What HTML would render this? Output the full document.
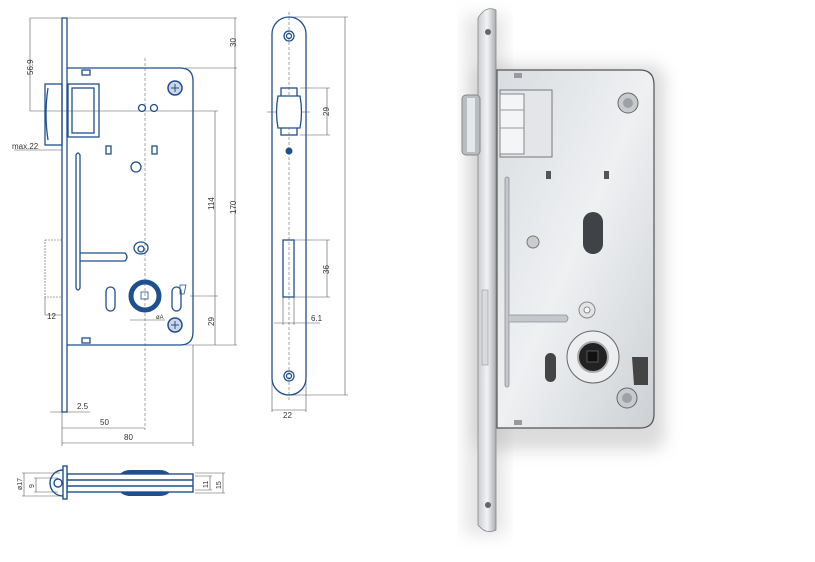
<!DOCTYPE html>
<html><head><meta charset="utf-8"><style>
html,body{margin:0;padding:0;background:#fff;width:815px;height:562px;overflow:hidden}
svg{display:block}
text{font-family:"Liberation Sans",sans-serif;font-size:8px;fill:#333}
</style></head><body>
<svg width="815" height="562" viewBox="0 0 815 562" xmlns="http://www.w3.org/2000/svg">
<defs>
<linearGradient id="plate" x1="0" x2="1"><stop offset="0" stop-color="#c9ccd0"/><stop offset=".5" stop-color="#f2f3f5"/><stop offset="1" stop-color="#a9adb2"/></linearGradient>
<linearGradient id="caseg" x1="0" y1="0" x2="1" y2="1"><stop offset="0" stop-color="#d9dce0"/><stop offset=".5" stop-color="#eef0f2"/><stop offset="1" stop-color="#cdd0d4"/></linearGradient>
<filter id="sh" x="-20%" y="-20%" width="140%" height="140%"><feGaussianBlur stdDeviation="8"/></filter>
</defs>

<!-- ===== Drawing 1 ===== -->
<g fill="none" stroke="#555" stroke-width="0.6">
 <line x1="30" y1="18" x2="237" y2="18"/>
 <line x1="30" y1="18" x2="30" y2="111"/>
 <line x1="30" y1="111" x2="218" y2="111"/>
 <line x1="235" y1="18" x2="235" y2="345"/>
 <line x1="185" y1="68" x2="237" y2="68"/>
 <line x1="215" y1="111" x2="215" y2="345"/>
 <line x1="190" y1="296" x2="218" y2="296"/>
 <line x1="185" y1="345" x2="237" y2="345"/>
 <line x1="14" y1="150" x2="62" y2="150"/>
 <line x1="45" y1="315" x2="62" y2="315"/>
 <line x1="45" y1="297" x2="45" y2="315"/>
 <line x1="50" y1="412" x2="90" y2="412"/>
 <line x1="62" y1="428" x2="145" y2="428"/>
 <line x1="62" y1="443" x2="193" y2="443"/>
 <line x1="62" y1="412" x2="62" y2="446"/>
 <line x1="193" y1="345" x2="193" y2="446"/>
 <line x1="130" y1="320" x2="165" y2="320"/>
 <rect x="45" y="240" width="17" height="57" stroke-dasharray="2,1"/>
</g>
<line x1="145" y1="58" x2="145" y2="430" stroke="#666" stroke-width="0.6" stroke-dasharray="3,2"/>
<g fill="none" stroke="#1f4f8f" stroke-width="1.3">
 <rect x="62" y="18" width="5" height="394"/>
 <path d="M67 68 H180 Q193 68 193 81 V332 Q193 345 180 345 H67"/>
 <rect x="45" y="84" width="17" height="61"/>
 <path d="M48 88 Q44 114 48 140"/>
 <rect x="68" y="84" width="31" height="53"/>
 <rect x="72" y="88" width="22" height="45"/>
 <rect x="82" y="70" width="8" height="5"/>
 <rect x="82" y="338" width="8" height="5"/>
 <circle cx="142" cy="108" r="3.5"/><circle cx="154" cy="108" r="3.5"/>
 <rect x="106" y="146" width="5" height="8"/><rect x="152" y="146" width="5" height="8"/>
 <circle cx="136" cy="167" r="5"/>
 <ellipse cx="141" cy="248" rx="7" ry="6"/><circle cx="141" cy="249" r="3"/>
 <path d="M76 155 Q78 151 80 155 V288 Q78 292 76 288 Z"/>
 <path d="M80 253 H125 Q129 257 125 261 H80"/>
 <rect x="106" y="287" width="9" height="24" rx="4.5"/>
 <rect x="172" y="287" width="9" height="24" rx="4.5"/>
 <path d="M180 285 L186 285 L184 294 L180 294 Z" stroke-width="0.8"/>
 <rect x="141" y="292" width="7" height="7" stroke-width="0.8"/>
</g>
<circle cx="145" cy="296" r="14" fill="none" stroke="#1f4f8f" stroke-width="5"/>
<g stroke="#1f4f8f" stroke-width="1.5" fill="#cfd7e6"><circle cx="175" cy="88" r="7"/><circle cx="175" cy="325" r="7"/></g>
<g stroke="#1f4f8f" stroke-width="1"><path d="M171 88h8M175 84v8M171 325h8M175 321v8"/></g>
<text x="236" y="47" transform="rotate(-90 236 47)">30</text>
<text x="33" y="75" transform="rotate(-90 33 75)">56.9</text>
<text x="12" y="149">max.22</text>
<text x="214" y="210" transform="rotate(-90 214 210)">114</text>
<text x="236" y="214" transform="rotate(-90 236 214)">170</text>
<text x="214" y="326" transform="rotate(-90 214 326)">29</text>
<text x="47" y="319">12</text>
<text x="156" y="319" style="font-size:6px">øA</text>
<text x="77" y="409">2.5</text>
<text x="100" y="425">50</text>
<text x="124" y="440">80</text>

<!-- ===== Drawing 2 ===== -->
<g fill="none" stroke="#555" stroke-width="0.6">
 <line x1="290" y1="17" x2="348" y2="17"/><line x1="290" y1="395" x2="348" y2="395"/>
 <line x1="345" y1="17" x2="345" y2="395"/>
 <line x1="300" y1="88" x2="330" y2="88"/><line x1="300" y1="135" x2="330" y2="135"/>
 <line x1="327" y1="88" x2="327" y2="135"/>
 <line x1="294" y1="240" x2="330" y2="240"/><line x1="294" y1="297" x2="330" y2="297"/>
 <line x1="327" y1="240" x2="327" y2="297"/>
 <line x1="283" y1="297" x2="283" y2="325"/><line x1="294" y1="297" x2="294" y2="325"/>
 <line x1="274" y1="323" x2="320" y2="323"/>
 <line x1="272" y1="380" x2="272" y2="412"/><line x1="306" y1="380" x2="306" y2="412"/>
 <line x1="272" y1="410" x2="306" y2="410"/>
 <line x1="267" y1="112" x2="310" y2="112"/>
</g>
<line x1="289" y1="12" x2="289" y2="400" stroke="#666" stroke-width="0.6" stroke-dasharray="3,2"/>
<g fill="none" stroke="#1f4f8f" stroke-width="1.3">
 <path d="M272 34 A17 17 0 0 1 306 34 V378 A17 17 0 0 1 272 378 Z"/>
 <circle cx="289" cy="36" r="5"/><circle cx="289" cy="36" r="2.5"/>
 <circle cx="289" cy="376" r="5"/><circle cx="289" cy="376" r="2.5"/>
 <rect x="281" y="88" width="16" height="47"/>
 <path d="M278 96 H300 Q303 112 300 128 H278 Q275 112 278 96 Z" fill="#fff"/>
 <rect x="283" y="240" width="11" height="57"/>
</g>
<circle cx="289" cy="151" r="3.5" fill="#1f4f8f"/>
<text x="329" y="116" transform="rotate(-90 329 116)">29</text>
<text x="329" y="274" transform="rotate(-90 329 274)">36</text>
<text x="311" y="321">6.1</text>
<text x="283" y="418">22</text>

<!-- ===== Drawing 3 ===== -->
<g fill="none" stroke="#555" stroke-width="0.6">
 <line x1="22" y1="473" x2="60" y2="473"/><line x1="22" y1="496" x2="60" y2="496"/>
 <line x1="24" y1="473" x2="24" y2="496"/>
 <line x1="34" y1="478" x2="58" y2="478"/><line x1="34" y1="492" x2="58" y2="492"/>
 <line x1="36" y1="478" x2="36" y2="492"/>
 <line x1="195" y1="473" x2="225" y2="473"/><line x1="195" y1="493" x2="225" y2="493"/>
 <line x1="223" y1="473" x2="223" y2="493"/>
 <line x1="195" y1="476" x2="212" y2="476"/><line x1="195" y1="490" x2="212" y2="490"/>
 <line x1="210" y1="476" x2="210" y2="490"/>
</g>
<path d="M120 474 Q124 470 130 470 H160 Q166 470 170 474 V492 Q166 496 160 496 H130 Q124 496 120 492 Z" fill="#1f4f8f"/>
<g fill="none" stroke="#1f4f8f" stroke-width="1.4">
 <rect x="67" y="474" width="126" height="18" fill="#fff"/>
 <line x1="67" y1="480" x2="193" y2="480"/><line x1="67" y1="486" x2="193" y2="486"/>
 <rect x="63" y="466" width="4" height="33" fill="#fff"/>
 <path d="M63 470 A13 13 0 0 0 63 496"/>
 <circle cx="58" cy="483" r="4"/>
</g>
<text x="22" y="490" transform="rotate(-90 22 490)" style="font-size:7px">ø17</text>
<text x="34" y="488" transform="rotate(-90 34 488)" style="font-size:7px">9</text>
<text x="208" y="488" transform="rotate(-90 208 488)" style="font-size:7px">11</text>
<text x="221" y="489" transform="rotate(-90 221 489)" style="font-size:7px">15</text>

<!-- ===== Photo ===== -->
<rect x="475" y="65" width="190" height="385" rx="14" fill="#999" opacity=".35" filter="url(#sh)"/>
<rect x="465" y="15" width="40" height="520" fill="#aaa" opacity=".3" filter="url(#sh)"/>
<path d="M497 70 H640 Q654 70 654 85 V414 Q654 428 640 428 H497 Z" fill="url(#caseg)" stroke="#555" stroke-width="1.2"/>
<path d="M478 18 Q486 5 496 10 V530 Q486 535 478 525 Z" fill="url(#plate)" stroke="#888" stroke-width="0.8"/>
<rect x="500" y="90" width="52" height="67" fill="#e3e5e8" stroke="#777"/>
<rect x="500" y="94" width="24" height="60" fill="#f4f5f7" stroke="#888"/>
<line x1="500" y1="110" x2="524" y2="110" stroke="#999"/><line x1="500" y1="128" x2="524" y2="128" stroke="#999"/>
<rect x="462" y="95" width="18" height="60" rx="4" fill="#b8bdc2" stroke="#888"/>
<rect x="467" y="98" width="8" height="54" fill="#e5e8eb"/>
<rect x="505" y="177" width="4" height="210" rx="2" fill="#c4c7cb" stroke="#8c9096" stroke-width="0.8"/>
<path d="M509 315 H566 Q570 318 566 322 H509" fill="#c4c7cb" stroke="#8c9096" stroke-width="0.8"/>
<rect x="583" y="212" width="20" height="42" rx="10" fill="#3f4247"/>
<circle cx="533" cy="242" r="6" fill="#ccc" stroke="#777"/>
<circle cx="587" cy="310" r="8" fill="#e2e4e6" stroke="#888"/>
<circle cx="587" cy="310" r="3" fill="#fff" stroke="#888"/>
<circle cx="593" cy="357" r="26" fill="#eceeef" stroke="#666"/>
<circle cx="593" cy="357" r="15" fill="#222" stroke="#aaa" stroke-width="2"/>
<rect x="587" y="351" width="11" height="11" fill="#111" stroke="#555"/>
<rect x="545" y="353" width="11" height="29" rx="5.5" fill="#444"/>
<path d="M632 357 H648 V385 H634 Z" fill="#444"/>
<circle cx="628" cy="103" r="10" fill="#c8cbce" stroke="#666"/>
<circle cx="628" cy="103" r="5" fill="#9ea2a6"/>
<circle cx="627" cy="398" r="10" fill="#c8cbce" stroke="#666"/>
<circle cx="627" cy="398" r="5" fill="#9ea2a6"/>
<rect x="514" y="73" width="8" height="5" fill="#999"/><rect x="514" y="420" width="8" height="5" fill="#999"/>
<rect x="546" y="171" width="5" height="8" fill="#555"/><rect x="604" y="171" width="5" height="8" fill="#555"/>
<circle cx="488" cy="32" r="3" fill="#666"/><circle cx="488" cy="505" r="3" fill="#666"/>
<rect x="482" y="290" width="6" height="75" fill="#d8dadd" stroke="#999" stroke-width="0.6"/>
</svg>
</body></html>
